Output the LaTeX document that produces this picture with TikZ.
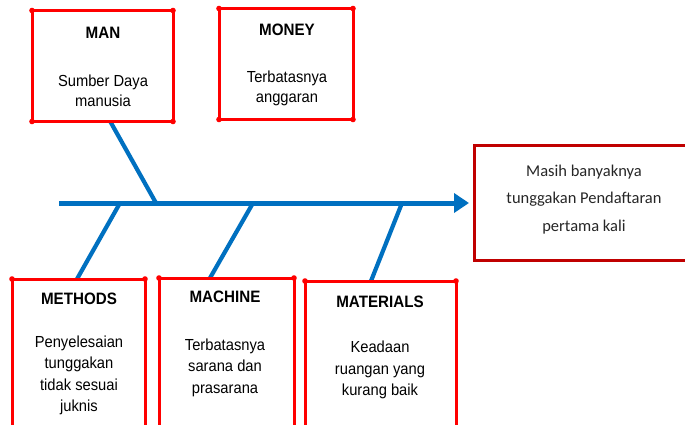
\documentclass[tikz,border=0pt]{standalone}
\usepackage{fontspec}
\setmainfont{Liberation Sans}[FakeStretch=0.92]
\newfontfamily\calib{Carlito}
\usetikzlibrary{arrows.meta}
\definecolor{boxred}{RGB}{255,0,0}
\definecolor{effred}{RGB}{192,0,0}
\definecolor{boneblue}{RGB}{0,112,192}
\tikzset{
  cbox/.style={draw=boxred,line width=3pt,inner sep=0pt,outer sep=0pt,fill=white},
  ebox/.style={draw=effred,line width=3pt,inner sep=0pt,outer sep=0pt},
  head/.style={font=\fontsize{16.5}{18}\selectfont\bfseries,inner sep=0pt},
  body/.style={font=\fontsize{16}{20}\selectfont,align=center,inner sep=0pt},
  bodyb/.style={font=\fontsize{16}{21.5}\selectfont,align=center,inner sep=0pt},
  efftext/.style={font=\calib\fontsize{16.5}{27.5}\selectfont,align=center,inner sep=0pt,text=black!85},
  bone/.style={draw=boneblue,line width=4.2pt},
  spine/.style={draw=boneblue,line width=5pt},
  dot/.style={fill=boxred}
}
\begin{document}
\begin{tikzpicture}[x=1pt,y=-1pt]
\useasboundingbox (0,0) rectangle (685,424);
\clip (0,0) rectangle (685,424);

% bones first (under boxes)
\coordinate (tail) at (59,203);
\coordinate (tip) at (469,203);
\coordinate (jman) at (156,203);
\coordinate (jmet) at (120,203);
\coordinate (jmac) at (253,203);
\coordinate (jmat) at (402,203);
\coordinate (eman) at (110,121);
\coordinate (emet) at (77,279);
\coordinate (emac) at (210,278);
\coordinate (emat) at (371,281);

\draw[bone] (eman) -- (jman);
\draw[bone] (emet) -- (jmet);
\draw[bone] (emac) -- (jmac);
\draw[bone] (emat) -- (jmat);
\draw[spine,-{Triangle[length=15pt,width=19pt]}] (tail) -- (tip);

% boxes
\node[cbox,minimum width=141pt,minimum height=111pt] (man) at (102.5,66) {};
\node[cbox,minimum width=134pt,minimum height=111pt] (money) at (286,64) {};
\node[cbox,minimum width=133pt,minimum height=160pt] (methods) at (78.5,359) {};
\node[cbox,minimum width=135pt,minimum height=160pt] (machine) at (226.5,358) {};
\node[cbox,minimum width=151pt,minimum height=160pt] (materials) at (380.5,361) {};
\node[ebox,minimum width=214pt,minimum height=115pt] (effect) at (581,202.5) {};

\foreach \b in {man,money,methods,machine,materials}{
  \foreach \a in {north west,north east,south west,south east}{
    \fill[dot] (\b.\a) circle (2.8pt);
  }
}

% texts
\node[head] (manh) at (103,33) {MAN};
\node[body] (mant) at (103,91) {Sumber Daya\\manusia};
\node[head] (moneyh) at (287,30) {MONEY};
\node[body] (moneyt) at (287,88) {Terbatasnya\\anggaran};
\node[head] (methodsh) at (79,299) {METHODS};
\node[bodyb] (methodst) at (79,375.5) {Penyelesaian\\tunggakan\\tidak sesuai\\juknis};
\node[head] (machineh) at (225,297) {MACHINE};
\node[bodyb] (machinet) at (225,367.5) {Terbatasnya\\sarana dan\\prasarana};
\node[head] (materialsh) at (380,302) {MATERIALS};
\node[bodyb] (materialst) at (380,370) {Keadaan\\ruangan yang\\kurang baik};
\node[efftext] (effectt) at (584,199.5) {Masih banyaknya\\tunggakan Pendaftaran\\pertama kali};
\end{tikzpicture}
\end{document}
